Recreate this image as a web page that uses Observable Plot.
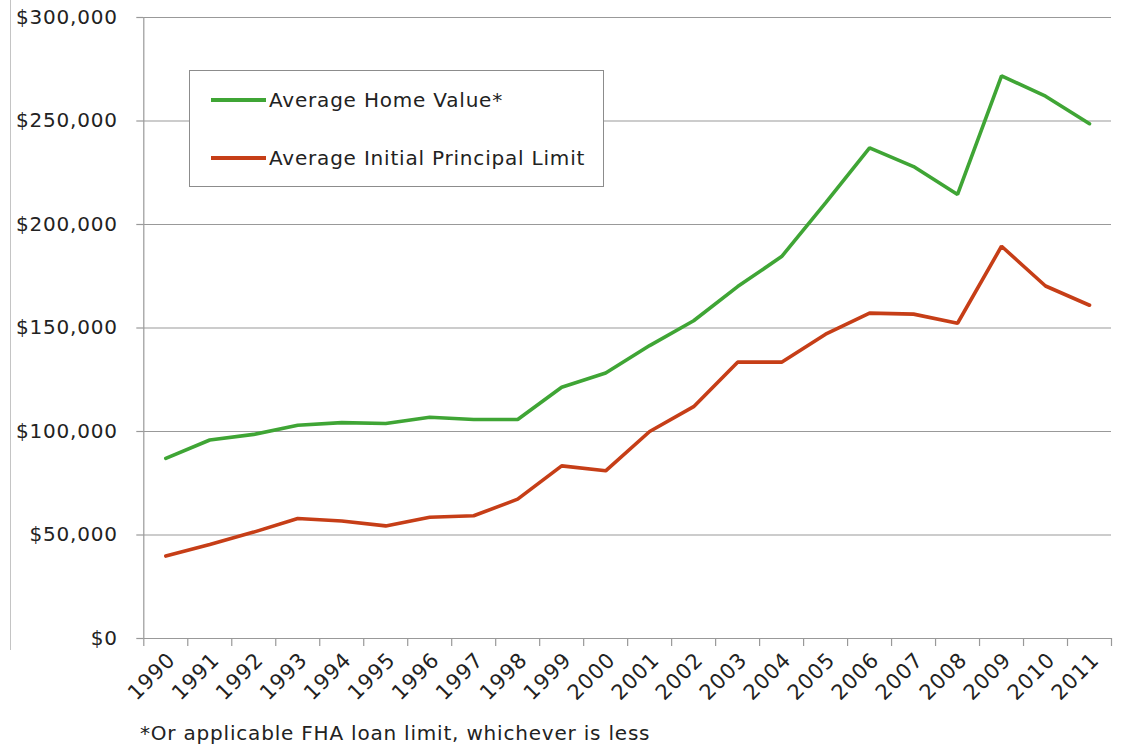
<!DOCTYPE html>
<html>
<head>
<meta charset="utf-8">
<script src="https://cdn.jsdelivr.net/npm/d3@7"></script>
<script src="https://cdn.jsdelivr.net/npm/@observablehq/plot@0.6"></script>
<style>
  html, body { margin: 0; padding: 0; background: #fff; }
  body { width: 1146px; height: 754px; position: relative; overflow: hidden;
         font-family: "DejaVu Sans", Verdana, sans-serif; color: #222; }
  #frame { position: absolute; left: 10px; top: 0; height: 650px; border-left: 1px solid #c4c4c4; }
  #legend { position: absolute; left: 189px; top: 70px; width: 413px; height: 115px;
            border: 1px solid #8c8c8c; background: #fff; font-size: 20px; letter-spacing: 0.8px; }
  .item { position: absolute; left: 21px; display: flex; align-items: center; height: 24px; }
  .item svg { display: block; margin-right: 3px; }
  #caption { position: absolute; left: 140px; top: 720px; font-size: 20px; letter-spacing: 0.8px; line-height: 26px; }
</style>
</head>
<body>
<div id="frame"></div>
<div id="chart"></div>
<div id="legend"></div>
<div id="caption">*Or applicable FHA loan limit, whichever is less</div>
<script>
const years = [1990,1991,1992,1993,1994,1995,1996,1997,1998,1999,2000,2001,2002,2003,2004,2005,2006,2007,2008,2009,2010,2011];
const homeValue = [87000,95900,98600,103000,104300,103900,106900,105800,105800,121400,128300,141500,153500,170000,184500,210500,237000,228000,214500,271800,262000,248700];
const principalLimit = [39800,45400,51400,58000,56800,54400,58600,59300,67300,83400,81000,100000,112000,133500,133500,147000,157200,156700,152300,189500,170300,161000];
const yTicks = [0,50000,100000,150000,200000,250000,300000];
const seriesNames = ["Average Home Value*", "Average Initial Principal Limit"];
const seriesColors = ["#3fa535", "#c63e17"];

const data = years.flatMap((yr, i) => [
  {year: yr, value: homeValue[i], series: seriesNames[0]},
  {year: yr, value: principalLimit[i], series: seriesNames[1]}
]);
const boundaries = [years[0] - 0.5, ...years.map(y => y + 0.5)];

const chart = Plot.plot({
  width: 1146,
  height: 705,
  marginLeft: 143.3,
  marginRight: 35,
  marginTop: 17,
  marginBottom: 67,
  x: {type: "linear", domain: [years[0] - 0.5, years[years.length - 1] + 0.5], label: null},
  y: {domain: [0, 300000], label: null},
  color: {domain: seriesNames, range: seriesColors},
  style: {fontFamily: "'DejaVu Sans', Verdana, sans-serif", fontSize: "20px", color: "#222", letterSpacing: "0.8px", background: "transparent"},
  marks: [
    Plot.gridY(yTicks, {stroke: "#999", strokeOpacity: 1, strokeWidth: 1.2}),
    Plot.ruleX([years[0] - 0.5], {stroke: "#999", strokeWidth: 1.2}),
    Plot.axisY(yTicks, {tickSize: 7, tickPadding: 19, stroke: "#999", strokeWidth: 1.2, fill: "#222",
      tickFormat: d => "$" + d3.format(",")(d)}),
    Plot.axisX(boundaries, {tickSize: 8, stroke: "#999", strokeWidth: 1.2, tickFormat: () => ""}),
    Plot.axisX(years, {tickSize: 0, tickRotate: -45, tickPadding: 10, dx: 6, dy: 8, fontSize: 21, fill: "#222", tickFormat: d => String(d)}),
    Plot.lineY(data, {x: "year", y: "value", stroke: "series", strokeWidth: 3.6, strokeLinejoin: "miter"})
  ]
});
document.getElementById("chart").appendChild(chart);

const legend = document.getElementById("legend");
seriesNames.forEach((name, i) => {
  const item = document.createElement("div");
  item.className = "item";
  item.style.top = (i === 0 ? 17 : 75) + "px";
  item.innerHTML = `<svg width="55" height="6"><line x1="0" x2="55" y1="3" y2="3" stroke="${seriesColors[i]}" stroke-width="4"/></svg><span>${name}</span>`;
  legend.appendChild(item);
});
</script>
</body>
</html>
